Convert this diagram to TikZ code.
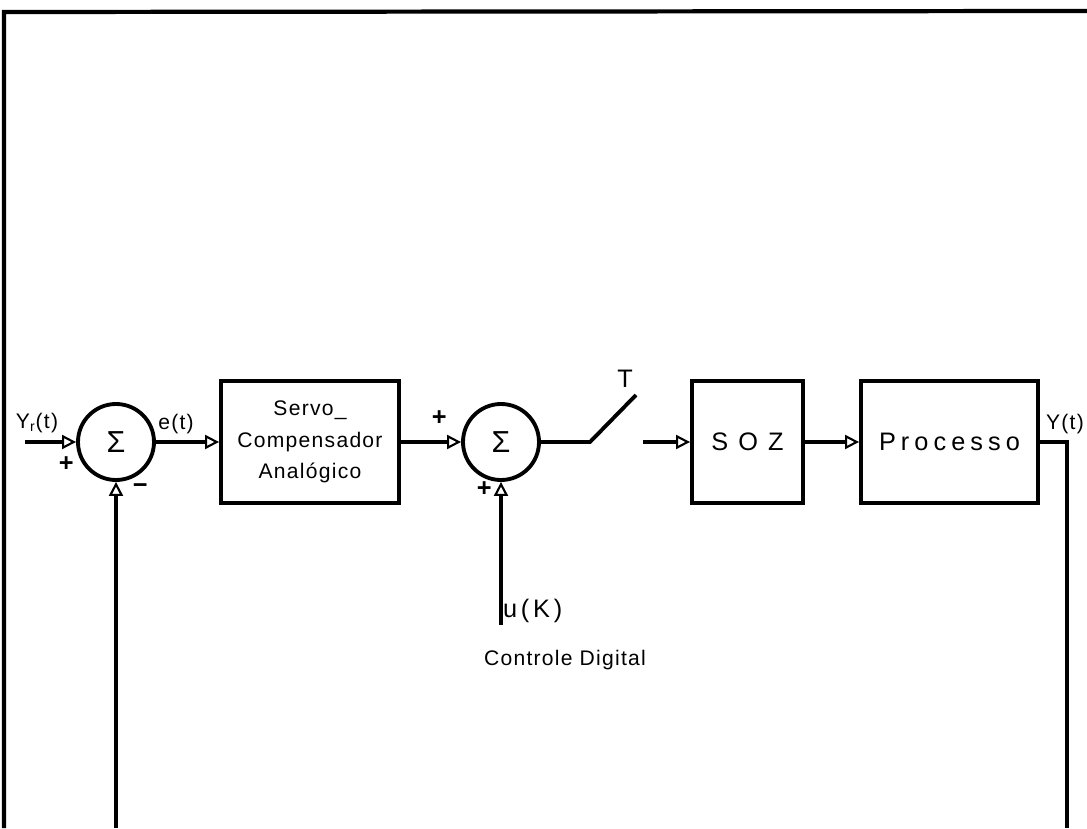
\documentclass[tikz,border=0pt]{standalone}
\usepackage{fontspec}
\setmainfont{Liberation Sans}[LetterSpace=6]
\usetikzlibrary{arrows.meta,positioning,calc}

\tikzset{
	sumnode/.style={circle,draw,line width=2.2pt,minimum size=1.52cm,inner sep=0pt,font=\LARGE},
	blockbox/.style={draw,line width=2.2pt,minimum height=2.44cm,align=center,font=\Large},
	sig/.style={line width=2.2pt,-{Triangle[open,length=8pt,width=8pt,line width=1.2pt]}},
	wire/.style={line width=2.2pt},
	lbl/.style={font=\large,inner sep=1pt}
}

\begin{document}
\begin{tikzpicture}
	
	\useasboundingbox (0,0) rectangle (21.74,16.56);
	
	% moldura
	\draw[line width=2.4pt] (0.08,0) -- (0.08,16.32) -- (21.74,16.34);
	
	\node[sumnode] (s1) at (2.32,7.72) {Σ};
	\node[blockbox,minimum width=3.56cm,font=\large] (servo) at (6.2,7.72)
	{Servo\_\\[4pt] Compensador\\[4pt] Analógico};
	\node[sumnode] (s2) at (10.02,7.72) {Σ};
	\node[blockbox,minimum width=2.22cm,font=\Large\addfontfeature{LetterSpace=40}] (soz) at (14.95,7.72) {SOZ};
	\node[blockbox,minimum width=3.54cm,font=\Large\addfontfeature{LetterSpace=20}] (proc) at (18.99,7.72) {Processo};
	
	% chave amostradora
	\coordinate (swa) at (11.8,7.72);
	\coordinate (swb) at (12.72,8.66);
	\coordinate (swc) at (12.86,7.72);
	
	\coordinate (yin) at (0.5,7.72);
	\coordinate (yout) at (21.34,7.72);
	\coordinate (ybot) at (21.34,0);
	\coordinate (fbot) at (2.32,0);
	\coordinate (uk) at (10.02,4.06);
	
	\draw[sig] (yin) -- (s1.west);
	\draw[sig] (s1.east) -- (servo.west);
	\draw[sig] (servo.east) -- (s2.west);
	\draw[wire] (s2.east) -- (swa) -- (swb);
	\draw[sig] (swc) -- (soz.west);
	\draw[sig] (soz.east) -- (proc.west);
	\draw[wire] (proc.east) -- (yout) -- (ybot);
	\draw[sig] (fbot) -- (s1.south);
	\draw[sig] (uk) -- (s2.south);
	
	\node[lbl] (yr) at (0.74,8.1) {Y\textsubscript{r}(t)};
	\node[lbl,font=\Large] (p1) at (1.34,7.28) {\textbf{+}};
	\node[lbl,font=\Large] (m1) at (2.82,6.78) {\textbf{−}};
	\node[lbl] (et) at (3.52,8.08) {e(t)};
	\node[lbl,font=\Large] (p2) at (8.8,8.2) {\textbf{+}};
	\node[lbl,font=\Large] (p3) at (9.7,6.78) {\textbf{+}};
	\node[lbl,font=\Large] (tt) at (12.5,8.98) {T};
	\node[lbl,anchor=east] (yt) at (21.72,8.08) {Y(t)};
	\node[lbl,anchor=south west,font=\Large\addfontfeature{LetterSpace=15}] (ukl) at (uk) {u(K)};
	\node[lbl] (cd) at (11.3,3.36) {Controle Digital};
	
\end{tikzpicture}
\end{document}
